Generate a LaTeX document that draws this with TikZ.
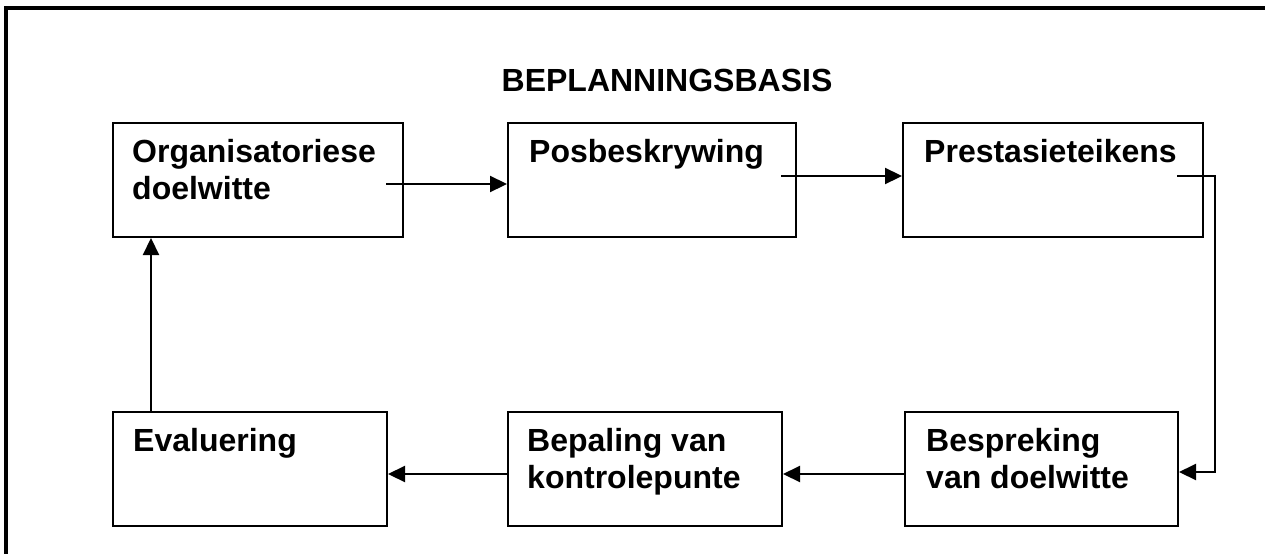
\documentclass[tikz,border=0pt]{standalone}
\usepackage{fontspec}
\setmainfont{Liberation Sans}
\usepackage{tikz}
\usetikzlibrary{positioning, arrows.meta, calc}

\tikzset{
  box/.style={draw, line width=2pt, inner sep=0pt, minimum height=114pt},
  lbl/.style={anchor=north west, inner sep=0pt, align=left, font=\fontsize{32}{37}\selectfont\bfseries},
  arr/.style={line width=2.2pt, -{Triangle[length=17pt,width=16pt]}}
}

\begin{document}
\begin{tikzpicture}[x=1pt,y=-1pt]
\useasboundingbox (0,0) rectangle (1265,554);
% frame (top and left only)
\draw[line width=4pt] (1265,7.5) -- (5.5,7.5) -- (5.5,554);

\node[lbl, anchor=base] (titel) at (667,91) {BEPLANNINGSBASIS};

% top row
\node[box, minimum width=290pt] (org) at (258,180) {};
\node[box, minimum width=288pt] (pos) at (652,180) {};
\node[box, minimum width=300pt] (pres) at (1053,180) {};
% bottom row
\node[box, minimum width=274pt] (eval) at (250,469) {};
\node[box, minimum width=274pt] (bepa) at (645,469) {};
\node[box, minimum width=273pt] (besp) at (1041.5,469) {};

\node[lbl] (orgT) at ($(org.north west)+(20,17)$) {Organisatoriese\\doelwitte};
\node[lbl] (posT) at ($(pos.north west)+(22,17)$) {Posbeskrywing};
\node[lbl] (presT) at ($(pres.north west)+(22,17)$) {Prestasieteikens};
\node[lbl] (evalT) at ($(eval.north west)+(21,17)$) {Evaluering};
\node[lbl] (bepaT) at ($(bepa.north west)+(20,17)$) {Bepaling van\\kontrolepunte};
\node[lbl] (bespT) at ($(besp.north west)+(22,17)$) {Bespreking\\van doelwitte};

% connectors
\coordinate (a1) at (386,184);
\coordinate (a2) at (781,176);
\coordinate (a3) at (1177,176);
\coordinate (a6) at (151,412);
\draw[arr] (a1) -- (a1 -| pos.west);
\draw[arr] (a2) -- (a2 -| pres.west);
\draw[arr] (a3) -- ++(38,0) |- ($(besp.east)+(0,3)$);
\draw[arr] ($(besp.west)+(0,5)$) -- ($(bepa.east)+(0,5)$);
\draw[arr] ($(bepa.west)+(0,5)$) -- ($(eval.east)+(0,5)$);
\draw[arr] (a6) -- (a6 |- org.south);
\end{tikzpicture}
\end{document}
